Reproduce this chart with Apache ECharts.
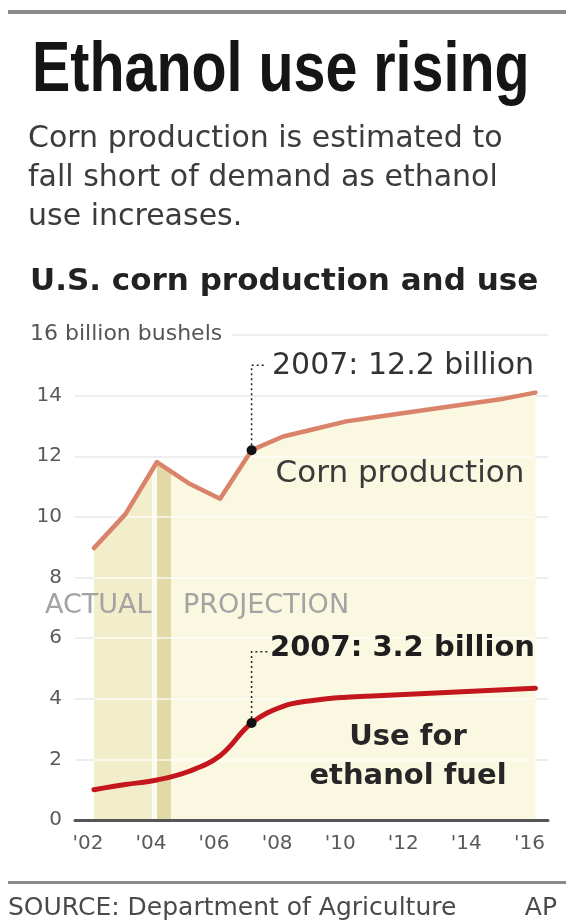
<!DOCTYPE html>
<html>
<head>
<meta charset="utf-8">
<script src="https://cdn.jsdelivr.net/npm/echarts@6/dist/echarts.min.js"></script>
<style>
html,body{margin:0;padding:0;background:#ffffff;}
#chart{width:566px;height:924px;}
</style>
</head>
<body>
<div id="chart"></div>
<script>
// ---- Data (billion bushels) ----
const years = [2002, 2003, 2004, 2005, 2006, 2007, 2008, 2009, 2010, 2011, 2012, 2013, 2014, 2015, 2016];
const cornProduction = [8.97, 10.09, 11.81, 11.11, 10.6, 12.2, 12.65, 12.9, 13.15, 13.3, 13.45, 13.6, 13.75, 13.9, 14.1];
const ethanolUse = [1.0, 1.17, 1.32, 1.6, 2.12, 3.2, 3.75, 3.95, 4.05, 4.1, 4.15, 4.2, 4.25, 4.3, 4.35];
const xTickYears = [2002, 2004, 2006, 2008, 2010, 2012, 2014, 2016];
const annotatedYear = 2007;
const lastActualYear = 2004;

const FONT = '"DejaVu Sans"';
const idx07 = years.indexOf(annotatedYear);

const cornFillData = years.map((y, i) => [y, cornProduction[i]]);
const cornLineData = years.map((y, i) => i === idx07
  ? { value: [y, cornProduction[i]], symbol: 'circle', symbolSize: 10, itemStyle: { color: '#111' } }
  : { value: [y, cornProduction[i]], symbol: 'none' });
const ethanolLineData = years.map((y, i) => i === idx07
  ? { value: [y, ethanolUse[i]], symbol: 'circle', symbolSize: 10, itemStyle: { color: '#111' } }
  : { value: [y, ethanolUse[i]], symbol: 'none' });

const chart = echarts.init(document.getElementById('chart'), null, { renderer: 'canvas', width: 566, height: 924 });

function txt(id, x, y, text, font, fill, align, extra) {
  const el = {
    type: 'text', id: id, x: x, y: y, z: 10,
    style: {
      text: text, font: font, fill: fill,
      align: align || 'left', textAlign: align || 'left',
      verticalAlign: 'middle', textVerticalAlign: 'middle'
    }
  };
  if (extra) Object.assign(el, extra);
  return el;
}

const option = {
  animation: false,
  backgroundColor: '#ffffff',
  grid: { left: 75, right: 18, top: 335, bottom: 104, containLabel: false, outerBoundsMode: 'none' },
  xAxis: {
    type: 'value', min: 2001.4, max: 2016.4, z: 3,
    axisLine: { show: true, lineStyle: { color: '#555555', width: 3 } },
    axisTick: { show: false },
    splitLine: { show: false },
    axisLabel: {
      customValues: xTickYears,
      formatter: v => "'" + String(v).slice(2),
      color: '#5a5a5a', fontFamily: FONT, fontSize: 20, margin: 14,
      padding: [0, 12, 0, 0]
    }
  },
  yAxis: [
    {
      type: 'value', min: 0, max: 16, interval: 2, z: 0,
      axisLine: { show: false }, axisTick: { show: false },
      axisLabel: {
        formatter: v => (v === 16 ? '' : String(v)),
        color: '#5a5a5a', fontFamily: FONT, fontSize: 20, margin: 13
      },
      splitLine: { show: true, lineStyle: { color: '#d4d4d4', width: 2 } }
    },
    {
      type: 'value', min: 0, max: 16, interval: 2, z: 2, position: 'left',
      axisLine: { show: false }, axisTick: { show: false },
      axisLabel: { show: false },
      splitLine: { show: true, lineStyle: { color: 'rgba(255,255,255,0.6)', width: 2 } }
    }
  ],
  visualMap: {
    type: 'piecewise', show: false, seriesIndex: 0, dimension: 0,
    pieces: [
      { gte: 1990, lt: lastActualYear - 0.15, color: '#f2edca' },
      { gte: lastActualYear - 0.15, lt: lastActualYear, color: '#fcfbf1' },
      { gte: lastActualYear, lt: lastActualYear + 0.45, color: '#e2d9a6' },
      { gte: lastActualYear + 0.45, lte: 2030, color: '#fbf8e2' }
    ]
  },
  series: [
    {
      name: 'fill', type: 'line', z: 1, silent: true,
      data: cornFillData, symbol: 'none',
      lineStyle: { width: 0, opacity: 0 },
      areaStyle: { opacity: 1 }
    },
    {
      name: 'Corn production', type: 'line', z: 4, silent: true,
      data: cornLineData, showSymbol: true,
      lineStyle: { color: '#d9836b', width: 4.5, join: 'round', cap: 'round' },
      itemStyle: { color: '#d9836b' }
    },
    {
      name: 'Use for ethanol fuel', type: 'line', z: 4, silent: true,
      data: ethanolLineData, showSymbol: true, smooth: 0.4,
      lineStyle: { color: '#c3171d', width: 5, cap: 'round' },
      itemStyle: { color: '#c3171d' }
    }
  ],
  graphic: [
    { type: 'rect', id: 'topRule', z: 10, shape: { x: 8, y: 10, width: 558, height: 4 }, style: { fill: '#8a8a8a' } },
    txt('title', 32, 72, 'Ethanol use rising', 'bold 70px "Liberation Sans"', '#151515', 'left', { scaleX: 0.82 }),
    txt('sub1', 28, 139, 'Corn production is estimated to', '30px ' + FONT, '#3c3c3c'),
    txt('sub2', 28, 178, 'fall short of demand as ethanol', '30px ' + FONT, '#3c3c3c'),
    txt('sub3', 28, 217, 'use increases.', '30px ' + FONT, '#3c3c3c'),
    txt('chartTitle', 30, 282, 'U.S. corn production and use', 'bold 31px ' + FONT, '#222222'),
    {
      type: 'text', id: 'unit', x: 30, y: 334, z: 10,
      style: {
        text: '16 billion bushels', font: '22px ' + FONT, fill: '#555555',
        align: 'left', textAlign: 'left', verticalAlign: 'middle', textVerticalAlign: 'middle',
        backgroundColor: '#ffffff', padding: [2, 10, 2, 0]
      }
    },
    txt('actual', 45, 606, 'ACTUAL', '27px ' + FONT, '#a3a3a3'),
    txt('proj', 183, 606, 'PROJECTION', '27px ' + FONT, '#a3a3a3'),
    txt('cornAnn', 272, 366, '2007: 12.2 billion', '30px ' + FONT, '#333333'),
    txt('cornName', 400, 474, 'Corn production', '31px ' + FONT, '#3a3a3a', 'center'),
    txt('ethAnn', 270, 648, '2007: 3.2 billion', 'bold 29px ' + FONT, '#1e1e1e'),
    txt('ethName1', 408, 737, 'Use for', 'bold 29px ' + FONT, '#262626', 'center'),
    txt('ethName2', 408, 776, 'ethanol fuel', 'bold 29px ' + FONT, '#262626', 'center'),
    { type: 'rect', id: 'botRule', z: 10, shape: { x: 8, y: 881, width: 558, height: 3 }, style: { fill: '#8a8a8a' } },
    txt('source', 8, 908, 'SOURCE: Department of Agriculture', '25px ' + FONT, '#4a4a4a'),
    txt('ap', 557, 908, 'AP', '25px ' + FONT, '#4a4a4a', 'right')
  ]
};

chart.setOption(option);

// Leader lines from the annotated 2007 points, positioned via the chart's own scales
const cornPt = chart.convertToPixel({ gridIndex: 0 }, [annotatedYear, cornProduction[idx07]]);
const cornElbow = chart.convertToPixel({ gridIndex: 0 }, [annotatedYear, 15.0]);
const ethPt = chart.convertToPixel({ gridIndex: 0 }, [annotatedYear, ethanolUse[idx07]]);
const ethElbow = chart.convertToPixel({ gridIndex: 0 }, [annotatedYear, 5.55]);

chart.setOption({
  graphic: [
    {
      type: 'polyline', id: 'cornLeader', z: 9,
      shape: { points: [[cornPt[0], cornPt[1] - 5], [cornPt[0], cornElbow[1]], [cornPt[0] + 14, cornElbow[1]]] },
      style: { stroke: '#222', lineWidth: 1.5, lineDash: [2, 3], fill: null }
    },
    {
      type: 'polyline', id: 'ethLeader', z: 9,
      shape: { points: [[ethPt[0], ethPt[1] - 5], [ethPt[0], ethElbow[1]], [ethPt[0] + 16, ethElbow[1]]] },
      style: { stroke: '#222', lineWidth: 1.5, lineDash: [2, 3], fill: null }
    }
  ]
});
</script>
</body>
</html>
